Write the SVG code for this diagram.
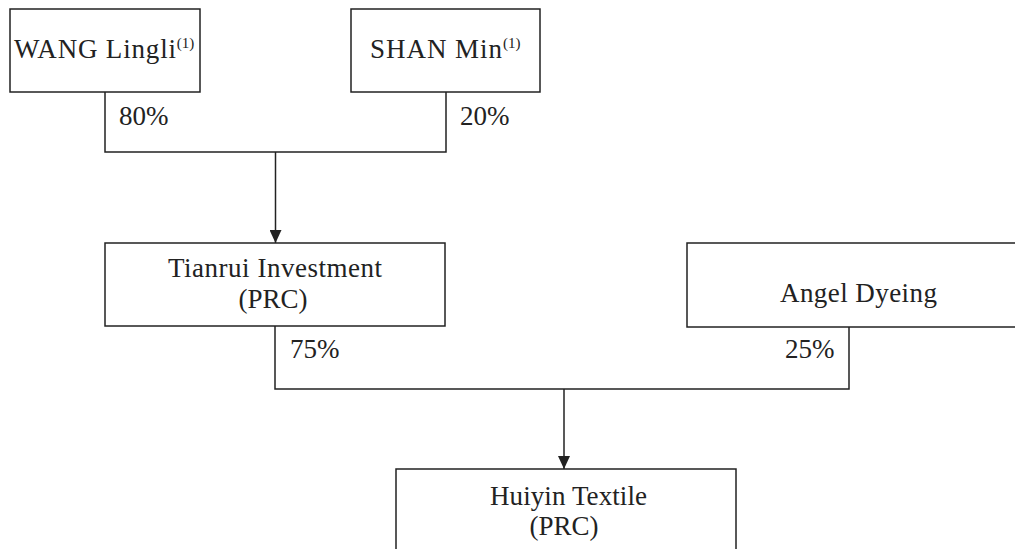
<svg xmlns="http://www.w3.org/2000/svg" width="1015" height="549" viewBox="0 0 1015 549">
<style>
.box{fill:#fff;stroke:#222;stroke-width:1.5}
.ln{fill:none;stroke:#222;stroke-width:1.5}
.t{font-family:'Liberation Serif','Times New Roman',serif;font-size:27px;fill:#222}
.c{text-anchor:middle}
.sup{font-size:15px}
</style>
<defs>
<marker id="ah" viewBox="0 0 13 12" refX="13" refY="6" markerWidth="13" markerHeight="12" markerUnits="userSpaceOnUse" orient="auto">
<path d="M0,0 L13,6 L0,12 Z" fill="#222"/>
</marker>
</defs>
<g id="connectors">
<path class="ln" d="M105,92 V152 H446 V92"/>
<path class="ln" d="M275.5,152 V243" marker-end="url(#ah)"/>
<path class="ln" d="M275,326 V389 H849 V327"/>
<path class="ln" d="M564,389 V469" marker-end="url(#ah)"/>
<text class="t" x="119" y="125">80%</text>
<text class="t" x="460" y="125">20%</text>
<text class="t" x="290" y="358">75%</text>
<text class="t" x="785" y="358">25%</text>
</g>
<g id="wang">
<rect class="box" x="10" y="9" width="190" height="83"/>
<text class="t" x="14" y="58"><tspan textLength="162" lengthAdjust="spacing">WANG Lingli</tspan><tspan class="sup" dy="-10">(1)</tspan></text>
</g>
<g id="shan">
<rect class="box" x="351" y="9" width="189" height="83"/>
<text class="t" x="370" y="58"><tspan textLength="132" lengthAdjust="spacing">SHAN Min</tspan><tspan class="sup" dy="-10">(1)</tspan></text>
</g>
<g id="tianrui">
<rect class="box" x="105" y="243" width="340" height="83"/>
<text class="t" x="168" y="277" textLength="214" lengthAdjust="spacing">Tianrui Investment</text>
<text class="t c" x="273" y="308">(PRC)</text>
</g>
<g id="angel">
<rect class="box" x="687" y="243" width="340" height="84"/>
<text class="t" x="780" y="302" textLength="157" lengthAdjust="spacing">Angel Dyeing</text>
</g>
<g id="huiyin">
<rect class="box" x="396" y="469" width="340" height="100"/>
<text class="t" x="490" y="505" textLength="157" lengthAdjust="spacing">Huiyin Textile</text>
<text class="t c" x="564" y="535">(PRC)</text>
</g>
</svg>
